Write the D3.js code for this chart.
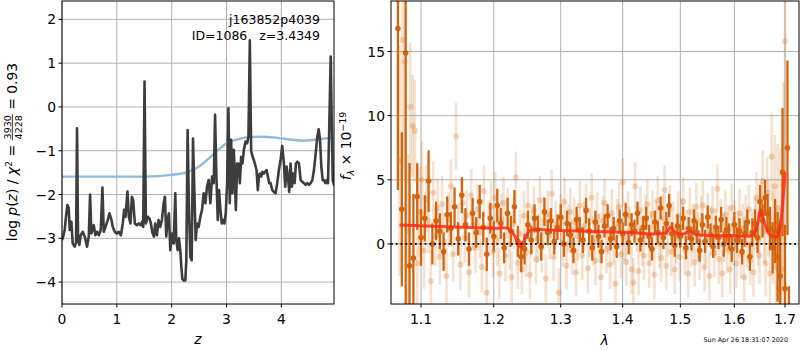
<!DOCTYPE html>
<html><head><meta charset="utf-8">
<script src="https://cdn.jsdelivr.net/npm/d3@7"></script>
<style>body{margin:0;background:#fff}svg{display:block}text{font-family:"DejaVu Sans",sans-serif;white-space:pre}</style>
</head><body><svg id="c" width="800" height="350"></svg>
<script>
// ---------------- DATA ----------------
const pzZ = [0.000,0.024,0.049,0.073,0.098,0.122,0.140,0.171,0.195,0.232,0.256,0.274,0.293,0.317,0.341,0.378,0.414,0.457,0.488,0.512,0.536,0.579,0.609,0.640,0.670,0.707,0.737,0.762,0.804,0.835,0.865,0.902,0.926,0.963,0.999,1.036,1.073,1.109,1.133,1.158,1.194,1.219,1.249,1.274,1.298,1.328,1.365,1.402,1.438,1.463,1.481,1.505,1.530,1.566,1.597,1.621,1.645,1.676,1.700,1.731,1.761,1.792,1.822,1.853,1.877,1.901,1.926,1.950,1.975,2.005,2.036,2.066,2.084,2.109,2.133,2.157,2.176,2.194,2.218,2.249,2.267,2.291,2.316,2.340,2.365,2.389,2.413,2.438,2.462,2.492,2.523,2.553,2.584,2.614,2.645,2.675,2.706,2.736,2.767,2.791,2.816,2.840,2.864,2.889,2.913,2.938,2.962,2.986,3.011,3.035,3.059,3.084,3.108,3.133,3.151,3.170,3.194,3.218,3.243,3.267,3.292,3.316,3.347,3.376,3.400,3.425,3.449,3.474,3.498,3.522,3.547,3.571,3.590,3.608,3.632,3.656,3.681,3.705,3.730,3.754,3.778,3.803,3.834,3.864,3.894,3.925,3.955,3.986,4.016,4.046,4.071,4.095,4.120,4.144,4.168,4.193,4.217,4.242,4.266,4.290,4.321,4.352,4.382,4.412,4.443,4.473,4.504,4.534,4.565,4.595,4.626,4.656,4.681,4.705,4.729,4.754,4.778,4.803,4.827,4.851,4.876,4.900,4.918,4.937,4.961,4.979];
const pzLog = [-3.04,-2.95,-2.81,-2.50,-2.24,-2.30,-2.81,-2.62,-3.12,-3.19,-3.10,-0.49,-3.05,-3.15,-2.93,-2.85,-2.96,-3.19,-2.96,-2.00,-2.89,-2.70,-2.93,-2.85,-2.93,-2.81,-1.84,-2.85,-2.70,-2.58,-2.43,-2.58,-2.74,-2.85,-2.89,-2.85,-2.93,-2.66,-2.35,-2.51,-1.93,-2.51,-2.66,-2.05,-2.13,-2.66,-2.70,-2.66,-2.70,-2.62,-2.74,0.58,-2.66,-2.51,-2.55,-2.66,-2.85,-2.96,-2.66,-2.93,-2.58,-2.74,-2.58,-2.20,-2.05,-2.96,-2.58,-2.43,-3.27,-2.89,-3.12,-1.97,-3.04,-3.27,-3.00,-3.27,-3.65,-3.92,-3.96,-3.96,-3.50,-0.53,-2.35,-3.42,-3.50,-0.72,-1.90,-3.04,-2.66,-2.74,-2.51,-2.35,-1.97,-2.20,-1.82,-1.67,-2.20,-1.59,-1.74,-0.18,-1.59,-2.58,-1.90,-2.35,-2.66,-2.58,-2.66,-2.43,-1.74,-0.03,-2.20,-0.75,-1.97,-0.98,-1.52,-2.35,-1.29,-1.29,-1.74,-1.14,-1.29,-0.98,-0.79,-0.83,-0.68,1.52,-1.00,-1.13,-1.21,-1.32,-1.44,-1.90,-1.59,-1.52,-1.59,-1.48,-1.52,-1.48,-1.44,-1.59,-1.74,-1.74,-1.90,-1.94,-1.97,-1.74,-1.44,-1.21,-0.89,-1.29,-1.82,-1.36,-1.59,-1.94,-1.29,-1.82,-1.52,-1.74,-1.29,-1.25,-1.29,-1.67,-1.71,-1.74,-1.78,-1.74,-1.78,-1.74,-1.67,-1.44,-1.06,-0.68,-0.51,-0.75,-1.36,-1.67,-1.67,-1.74,-1.67,-1.74,-0.30,1.15,-0.30,-1.67,-1.78,-1.74];
const priorZ = [0.0,0.5,1.0,1.5,2.0,2.3,2.5,2.7,2.85,3.0,3.2,3.4,3.6,3.9,4.2,4.4,4.6,4.8,4.97];
const priorLog = [-1.59,-1.59,-1.59,-1.59,-1.55,-1.48,-1.36,-1.15,-0.98,-0.83,-0.74,-0.69,-0.68,-0.70,-0.75,-0.77,-0.75,-0.72,-0.70];
const zTicks = [0,1,2,3,4];
const logTicks = [-4,-3,-2,-1,0,1,2];

const lamTicks = [1.1,1.2,1.3,1.4,1.5,1.6,1.7];
const fluxTicks = [0,5,10,15];

const darkLam = [1.070,1.075,1.080,1.085,1.090,1.095,1.100,1.105,1.110,1.115,1.120,1.125,1.130,1.135,1.140,1.145,1.150,1.155,1.160,1.165,1.170,1.175,1.180,1.185,1.190,1.195,1.200,1.205,1.210,1.215,1.220,1.225,1.230,1.235,1.240,1.245,1.250,1.255,1.260,1.265,1.270,1.275,1.280,1.285,1.290,1.295,1.300,1.305,1.310,1.315,1.320,1.325,1.330,1.335,1.340,1.345,1.350,1.355,1.360,1.365,1.370,1.375,1.380,1.385,1.390,1.395,1.400,1.405,1.410,1.415,1.420,1.425,1.430,1.435,1.440,1.445,1.450,1.455,1.460,1.465,1.470,1.475,1.480,1.485,1.490,1.495,1.500,1.505,1.510,1.515,1.520,1.525,1.530,1.535,1.540,1.545,1.550,1.555,1.560,1.565,1.570,1.575,1.580,1.585,1.590,1.595,1.600,1.605,1.610,1.615,1.620,1.625,1.630,1.635,1.640,1.645,1.650,1.655,1.660,1.665,1.670,1.675,1.680,1.685,1.690,1.695,1.700,1.705,1.708];
const darkFlux = [16.8,2.7,14.9,-1.7,-1.1,3.7,0.5,2.0,4.9,0.0,
 1.8,1.0,-0.6,2.3,1.2,2.9,0.4,3.8,1.5,-0.4,
 2.4,0.9,3.3,1.3,-0.8,2.0,0.6,3.0,1.6,-0.3,
 2.4,1.0,2.9,0.2,-1.0,-0.4,1.5,0.3,2.0,1.1,
 -0.2,2.5,0.9,1.8,0.2,1.3,2.1,0.0,1.6,0.7,
 -0.5,1.9,1.1,0.3,2.6,1.0,-0.3,1.7,0.6,-0.6,
 1.4,2.2,0.4,1.2,-0.2,1.8,0.8,2.3,0.1,1.5,
 1.0,2.4,0.3,1.3,2.0,0.6,-0.4,1.7,0.9,2.8,
 0.5,1.6,3.0,0.8,-0.1,1.4,0.6,2.0,-0.3,1.2,
 0.4,1.8,0.9,-0.5,1.5,0.2,2.1,0.7,-0.2,1.3,
 0.5,1.9,0.0,1.1,0.6,-0.4,1.5,0.3,1.0,-0.6,
 0.8,1.7,-1.0,0.9,1.6,0.5,3.3,1.8,3.6,2.4,
 1.2,-0.3,1.0,-1.0,-2.5,5.6,-3.5,7.5,-5.8];
const darkErr = [12.6,6.0,20,8,5,2.6,2.2,1.8,2.4,1.6,
 1.5,1.4,1.5,1.4,1.3,1.5,1.3,1.4,1.3,1.3,
 1.2,1.2,1.3,1.2,1.3,1.2,1.2,1.3,1.2,1.2,
 1.2,1.2,1.3,1.2,1.2,1.2,1.1,1.1,1.1,1.1,
 1.1,1.1,1.0,1.0,1.0,1.0,1.0,1.0,1.0,1.0,
 1.0,1.0,1.0,1.0,1.0,1.0,1.0,0.9,0.9,0.9,
 0.9,0.9,0.9,0.9,0.9,0.9,0.9,0.9,0.9,0.9,
 0.9,0.9,0.9,0.9,0.9,0.9,0.9,0.9,0.9,0.9,
 0.9,0.9,0.9,0.9,0.9,0.9,0.9,0.9,0.9,0.9,
 0.9,0.9,0.9,0.9,0.9,0.9,0.9,0.9,0.9,0.9,
 0.9,1.0,1.0,1.0,1.0,1.0,1.0,1.0,1.0,1.0,
 1.0,1.0,1.1,1.1,1.1,1.2,1.3,1.3,1.4,1.5,
 1.7,2.0,2.5,3.5,4.0,5.0,5.0,6.8,2.5];

// light spectrum rows: [lambda, flux, error]
const lightRows = [[1.072,6.5,9],[1.076,15.9,10],[1.079,14.2,9],[1.083,1.0,6],[1.086,10.7,5],[1.089,9.2,4],[1.092,8.8,4],[1.095,-1.5,4],[1.098,2.5,3.5],[1.101,5.0,3],[1.104,-0.5,3],[1.107,3.5,2.6],[1.110,1.8,2.5],[1.113,-2.9,2.4],[1.116,4.0,2.4],[1.119,0.6,2.3],[1.122,2.8,2.3],[1.125,-1.0,2.2],[1.128,3.1,2.2],[1.131,0.2,2.2],[1.134,-2.5,2.2],[1.137,1.9,2.1],[1.140,4.5,2.1],[1.143,-0.8,2.1],[1.147,8.4,2.6],[1.150,1.2,2.0],[1.153,-1.6,2.0],[1.156,3.2,2.0],[1.159,0.5,2.0],[1.162,2.2,2.0],[1.165,-2.2,2.0],[1.168,3.8,2.0],[1.171,1.5,2.0],[1.174,-0.3,2.0],[1.177,2.7,2.0],[1.180,0.9,2.0],[1.183,-1.8,2.0],[1.186,4.1,2.0],[1.190,-3.8,2.0],[1.193,1.4,2.0],[1.196,2.9,2.0],[1.199,-0.6,2.0],[1.202,3.6,2.0],[1.205,0.3,2.0],[1.208,-2.3,2.0],[1.211,1.9,2.0],[1.214,3.2,2.0],[1.217,-0.9,2.0],[1.220,2.4,2.0],[1.223,0.0,2.0],[1.226,-2.6,2.0],[1.229,1.6,2.0],[1.232,5.2,2.0],[1.235,-1.5,2.0],[1.238,0.8,1.9],[1.241,-2.0,1.9],[1.244,2.2,1.9],[1.247,-0.7,1.9],[1.250,3.0,1.9],[1.253,-2.4,1.9],[1.256,1.1,1.9],[1.259,2.6,1.9],[1.262,-1.2,1.9],[1.265,0.4,1.9],[1.268,3.4,1.9],[1.271,-0.3,1.9],[1.274,1.8,1.9],[1.277,-2.7,1.9],[1.280,2.3,1.9],[1.283,0.7,1.9],[1.286,3.9,1.9],[1.289,-1.0,1.9],[1.292,1.5,1.9],[1.297,-3.8,1.9],[1.300,2.0,1.9],[1.303,0.1,1.9],[1.306,3.3,1.9],[1.309,-1.7,1.9],[1.312,1.2,1.9],[1.315,2.5,1.9],[1.318,-0.5,1.9],[1.321,1.7,1.9],[1.324,-2.2,1.9],[1.327,0.6,1.9],[1.330,3.0,1.9],[1.334,-0.9,1.9],[1.337,1.4,1.9],[1.340,2.8,1.9],[1.343,-1.9,1.9],[1.346,0.9,1.9],[1.349,3.6,1.9],[1.352,0.2,1.9],[1.355,-1.3,1.9],[1.358,2.1,1.9],[1.361,0.5,1.9],[1.364,-2.6,1.9],[1.367,1.8,1.9],[1.370,3.2,1.9],[1.373,-0.4,1.9],[1.376,1.1,1.9],[1.379,-1.6,1.9],[1.382,2.4,1.9],[1.385,0.3,1.9],[1.388,-3.1,1.9],[1.391,1.6,1.9],[1.394,2.9,1.9],[1.397,-0.8,1.9],[1.400,4.8,1.9],[1.403,0.6,1.9],[1.406,-1.4,1.9],[1.409,2.2,1.9],[1.412,1.0,1.9],[1.415,-2.0,1.9],[1.418,-3.0,1.9],[1.421,4.5,1.9],[1.424,1.3,1.9],[1.427,-2.1,1.9],[1.430,2.6,1.9],[1.433,0.2,1.9],[1.436,-0.9,1.9],[1.439,1.9,1.9],[1.442,3.1,1.9],[1.445,-1.5,1.9],[1.448,0.7,1.9],[1.451,2.3,1.9],[1.454,-2.4,1.9],[1.457,1.5,1.9],[1.460,3.4,1.9],[1.463,0.0,1.9],[1.466,-1.1,1.9],[1.469,2.0,1.9],[1.472,4.2,1.9],[1.475,-1.7,1.9],[1.478,0.9,1.9],[1.481,2.7,1.9],[1.484,-0.6,1.9],[1.487,1.4,1.9],[1.490,-2.0,1.9],[1.493,0.4,1.9],[1.496,2.2,1.9],[1.499,-1.0,1.9],[1.502,1.7,1.9],[1.505,3.3,1.9],[1.508,-0.5,1.9],[1.511,0.8,1.9],[1.514,-2.3,1.9],[1.517,2.5,1.9],[1.520,0.1,1.9],[1.523,1.2,1.9],[1.526,-1.4,1.9],[1.529,2.9,1.9],[1.532,0.6,1.9],[1.535,-0.9,1.9],[1.538,1.8,1.9],[1.541,3.0,1.9],[1.544,-1.8,1.9],[1.547,0.3,1.9],[1.550,2.1,1.9],[1.553,-2.5,1.9],[1.556,1.0,1.9],[1.559,2.6,1.9],[1.562,-0.7,1.9],[1.565,0.9,1.9],[1.568,4.3,1.9],[1.571,-1.2,1.9],[1.574,1.6,1.9],[1.577,-2.3,1.9],[1.580,0.5,1.9],[1.583,2.3,1.9],[1.586,-0.4,1.9],[1.589,1.1,1.9],[1.592,-2.0,1.9],[1.595,2.8,1.9],[1.598,0.2,1.9],[1.601,1.5,1.9],[1.604,-1.5,1.9],[1.607,0.7,1.9],[1.610,2.4,1.9],[1.613,-0.8,1.9],[1.616,1.2,1.9],[1.619,-2.6,1.9],[1.622,1.9,1.9],[1.625,0.0,1.9],[1.628,2.7,1.9],[1.631,-1.3,1.9],[1.634,0.8,1.9],[1.637,-2.2,1.9],[1.640,1.6,2.0],[1.643,3.6,2.0],[1.646,0.4,2.1],[1.649,-0.9,2.2],[1.652,2.5,2.3],[1.655,4.9,2.4],[1.658,1.0,2.5],[1.661,-1.5,2.6],[1.664,4.0,2.8],[1.667,2.0,3.0],[1.670,-2.3,3.2],[1.673,6.8,3.4],[1.676,0.5,3.6],[1.679,4.5,4.0],[1.682,-1.8,4.5],[1.685,2.8,5],[1.688,-3.5,5.5],[1.691,1.5,6],[1.694,-2.0,7],[1.697,4.6,8],[1.700,15.8,10]];

const modelLam = [1.072,1.199,1.221,1.231,1.239,1.246,1.253,1.299,1.401,1.473,1.483,1.492,1.505,1.518,1.527,1.598,1.634,1.644,1.651,1.658,1.667,1.683,1.691,1.698,1.700];
const modelFlux = [1.48,1.22,1.20,0.57,-0.26,0.44,1.04,1.04,0.91,0.86,1.30,0.88,0.78,1.00,0.75,0.65,0.67,1.35,2.65,1.74,0.86,0.55,1.70,4.50,5.60];

const titleLines = ["j163852p4039", "ID=1086   z=3.4349"];
const stampText = "Sun Apr 26 18:31:07 2020";

// ---------------- DRAWING ----------------
const svg = d3.select("#c");
const L = {x0:62, x1:334, y0:1, y1:304};
const R = {x0:391, x1:799, y0:1, y1:304};
const FS = 13.9;
const gridC = "#b0b0b0";
const orange = "#d4640c";

const xz = d3.scaleLinear().domain([0, 4.96]).range([L.x0, L.x1]);
const yl = d3.scaleLinear().domain([-4.5, 2.42]).range([L.y1, L.y0]);
const xl = d3.scaleLog().domain([1.0612, 1.7287]).range([R.x0, R.x1]);
const yf = d3.scaleLinear().domain([-4.68, 18.94]).range([R.y1, R.y0]);

const defs = svg.append("defs");
defs.append("clipPath").attr("id","clipL").append("rect").attr("x",L.x0).attr("y",L.y0).attr("width",L.x1-L.x0).attr("height",L.y1-L.y0);
defs.append("clipPath").attr("id","clipR").append("rect").attr("x",R.x0).attr("y",R.y0).attr("width",R.x1-R.x0).attr("height",R.y1-R.y0);

function grid(P, xs, xt, ys, yt) {
  const g = svg.append("g");
  xt.forEach(d => g.append("line").attr("x1", xs(d)).attr("x2", xs(d)).attr("y1", P.y0).attr("y2", P.y1)
    .attr("stroke", gridC).attr("stroke-width", 1));
  yt.forEach(d => g.append("line").attr("y1", ys(d)).attr("y2", ys(d)).attr("x1", P.x0).attr("x2", P.x1)
    .attr("stroke", gridC).attr("stroke-width", 1));
}
function axes(P, xs, xt, xfmt, ys, yt, yfmt) {
  const g = svg.append("g");
  xt.forEach(d => {
    g.append("line").attr("x1", xs(d)).attr("x2", xs(d)).attr("y1", P.y1).attr("y2", P.y1 + 3.5)
      .attr("stroke", "#000").attr("stroke-width", 1);
    g.append("text").attr("x", xs(d)).attr("y", P.y1 + 20).attr("text-anchor", "middle")
      .attr("font-size", FS).attr("fill", "#000").text(xfmt(d));
  });
  yt.forEach(d => {
    g.append("line").attr("y1", ys(d)).attr("y2", ys(d)).attr("x1", P.x0 - 3.5).attr("x2", P.x0)
      .attr("stroke", "#000").attr("stroke-width", 1);
    g.append("text").attr("x", P.x0 - 6).attr("y", ys(d) + 5).attr("text-anchor", "end")
      .attr("font-size", FS).attr("fill", "#000").text(yfmt(d));
  });
  svg.append("rect").attr("x", P.x0).attr("y", P.y0).attr("width", P.x1 - P.x0).attr("height", P.y1 - P.y0)
    .attr("fill", "none").attr("stroke", "#000").attr("stroke-width", 1);
}
const minusFmt = d => (d < 0 ? "\u2212" + Math.abs(d) : String(d));
const plainFmt = d => String(d);
const lamFmt = d => d.toFixed(1);

// ---- Left panel ----
grid(L, xz, zTicks, yl, logTicks);
const gL = svg.append("g").attr("clip-path", "url(#clipL)");
gL.append("path").datum(priorZ.map((z, i) => [z, priorLog[i]]))
  .attr("d", d3.line().x(d => xz(d[0])).y(d => yl(d[1])).curve(d3.curveMonotoneX))
  .attr("fill", "none").attr("stroke", "#8fbbda").attr("stroke-width", 2.4);
gL.append("path").datum(pzZ.map((z, i) => [z, pzLog[i]]))
  .attr("d", d3.line().x(d => xz(d[0])).y(d => yl(d[1])))
  .attr("fill", "none").attr("stroke", "#3d3d3d").attr("stroke-width", 2.6).attr("stroke-linejoin", "round");
axes(L, xz, zTicks, plainFmt, yl, logTicks, minusFmt);

titleLines.forEach((s, i) => svg.append("text").attr("x", 320).attr("y", 24 + i * 15.5)
  .attr("text-anchor", "end").attr("font-size", 12.5).attr("fill", "#000").text(s));

svg.append("text").attr("x", xz(2.48)).attr("y", 344).attr("text-anchor", "middle")
  .attr("font-size", FS).attr("font-style", "italic").text("z");

// left y label with fraction
(function () {
  const g = svg.append("g").attr("transform", "translate(17,152) rotate(-90)");
  const inner = g.append("g");
  const t1 = inner.append("text").attr("font-size", FS).attr("fill", "#000");
  t1.append("tspan").text("log ");
  t1.append("tspan").attr("font-style", "italic").text("p");
  t1.append("tspan").text("(");
  t1.append("tspan").attr("font-style", "italic").text("z");
  t1.append("tspan").text(") / ");
  t1.append("tspan").attr("font-style", "italic").text("\u03c7");
  t1.append("tspan").attr("font-size", 9.5).attr("dy", -5.5).text("2");
  t1.append("tspan").attr("dy", 5.5).text(" = ");
  const w1 = t1.node().getComputedTextLength();
  const fs2 = 9.5;
  const num = inner.append("text").attr("font-size", fs2).attr("x", w1 + 1).attr("y", -6.5).text("3930");
  const wn = num.node().getComputedTextLength();
  const den = inner.append("text").attr("font-size", fs2).attr("x", w1 + 1).attr("y", 4.5).text("4228");
  const wd = den.node().getComputedTextLength();
  const wf = Math.max(wn, wd) + 2;
  inner.append("line").attr("x1", w1).attr("x2", w1 + wf).attr("y1", -4.6).attr("y2", -4.6)
    .attr("stroke", "#000").attr("stroke-width", 0.8);
  const t2 = inner.append("text").attr("font-size", FS).attr("x", w1 + wf).text(" = 0.93");
  const total = w1 + wf + t2.node().getComputedTextLength();
  inner.attr("transform", `translate(${-total / 2},0)`);
})();

// ---- Right panel ----
grid(R, xl, lamTicks, yf, fluxTicks);
const gR = svg.append("g").attr("clip-path", "url(#clipR)");
gR.append("g").selectAll("line").data(lightRows).join("line")
  .attr("x1", d => xl(d[0])).attr("x2", d => xl(d[0]))
  .attr("y1", d => yf(d[1] - d[2])).attr("y2", d => yf(d[1] + d[2]))
  .attr("stroke", orange).attr("stroke-opacity", 0.2).attr("stroke-width", 2.6);
gR.append("g").selectAll("circle").data(lightRows).join("circle")
  .attr("cx", d => xl(d[0])).attr("cy", d => yf(d[1])).attr("r", 3)
  .attr("fill", orange).attr("fill-opacity", 0.25);
const dark = darkLam.map((l, i) => ({l, f: darkFlux[i], e: darkErr[i]}));
gR.append("g").selectAll("line").data(dark).join("line")
  .attr("x1", d => xl(d.l)).attr("x2", d => xl(d.l))
  .attr("y1", d => yf(d.f - d.e)).attr("y2", d => yf(d.f + d.e))
  .attr("stroke", orange).attr("stroke-width", 2.3);
gR.append("g").selectAll("circle").data(dark).join("circle")
  .attr("cx", d => xl(d.l)).attr("cy", d => yf(d.f)).attr("r", 2.8)
  .attr("fill", orange);
gR.append("path").datum(modelLam.map((l, i) => [l, modelFlux[i]]))
  .attr("d", d3.line().x(d => xl(d[0])).y(d => yf(d[1])).curve(d3.curveCatmullRom.alpha(0.5)))
  .attr("fill", "none").attr("stroke", "#ff2a1a").attr("stroke-opacity", 0.85).attr("stroke-width", 3);
gR.append("line").attr("x1", R.x0).attr("x2", R.x1).attr("y1", yf(0)).attr("y2", yf(0))
  .attr("stroke", "#000").attr("stroke-width", 1.8).attr("stroke-dasharray", "1.8,3");
axes(R, xl, lamTicks, lamFmt, yf, fluxTicks, plainFmt);

svg.append("text").attr("x", xl(1.37)).attr("y", 345).attr("text-anchor", "middle")
  .attr("font-size", FS).attr("font-style", "italic").text("\u03bb");

(function () {
  const t = svg.append("text").attr("transform", "translate(351,146) rotate(-90)")
    .attr("text-anchor", "middle").attr("font-size", FS).attr("fill", "#000");
  t.append("tspan").attr("font-style", "italic").text("f");
  t.append("tspan").attr("font-size", 9.5).attr("dy", 3).attr("font-style", "italic").text("\u03bb");
  t.append("tspan").attr("dy", -3).text(" \u00d7 10");
  t.append("tspan").attr("font-size", 9.5).attr("dy", -5.5).text("\u221219");
})();

svg.append("text").attr("x", 788).attr("y", 342).attr("text-anchor", "end")
  .attr("font-size", 6.4).attr("fill", "#000").text(stampText);
</script></body></html>
